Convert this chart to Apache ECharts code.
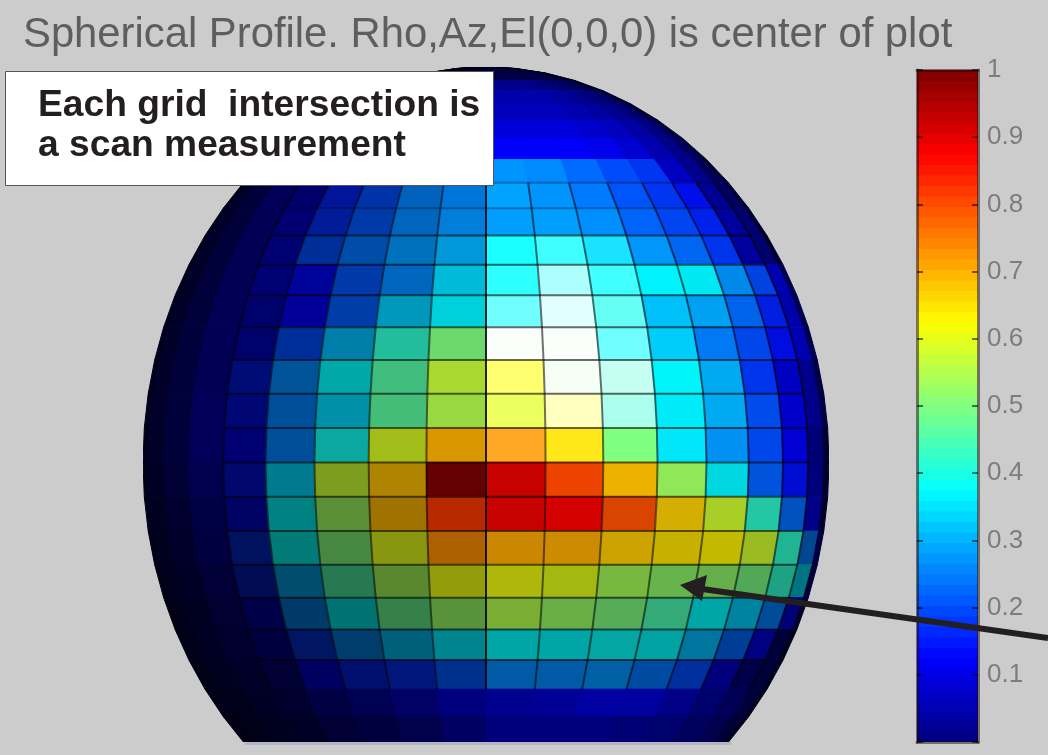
<!DOCTYPE html>
<html><head><meta charset="utf-8">
<style>html,body{margin:0;padding:0;background:#cccccc}#c{width:1048px;height:755px}</style>
<script src="https://cdn.jsdelivr.net/npm/echarts@6/dist/echarts.min.js"></script>
</head><body><div id="c"></div>
<script>
const titleText = 'Spherical Profile. Rho,Az,El(0,0,0) is center of plot';
const noteLines = ['Each grid  intersection is', 'a scan measurement'];
const colorbarTicks = [0.1,0.2,0.3,0.4,0.5,0.6,0.7,0.8,0.9,1];
const latEdges = [90,85,80,75,70,65,60,55,50,45,40,35,30,25,20,15,10,5,0,-5,-10,-15,-20,-25,-30,-35,-40,-45];
const lonEdges = [-90,-80,-70,-60,-50,-40,-30,-20,-10,0,10,20,30,40,50,60,70,80,90];
const gridLats = [45,40,35,30,25,20,15,10,5,0,-5,-10,-15,-20,-25,-30];
const gridLons = [-50,-40,-30,-20,-10,0,10,20,30,40,50,60,70];
// scan amplitude per cell: one row per latitude band (north to south), one column per azimuth band (west to east)
const cellValues = [
[0,0,0,0,0,0,0,0,0,0,0,0,0,0,0,0,0,0],
[0,0,0,0,0,0,0,0,0,0,0,0,0,0,0,0,0,0],
[0,0,0,0,0,0,0,0,.02,.02,.02,.02,.02,.02,.01,0,0,0],
[0,0,0,0,0,0,0,.02,.05,.1,.1,.1,.08,.06,.04,.02,0,0],
[0,0,0,0,0,0,.01,.03,.07,.1,.1,.1,.09,.07,.05,.03,.01,0],
[0,0,0,0,0,.01,.03,.05,.08,.09,.09,.09,.08,.07,.05,.03,.01,0],
[0,0,0,0,0,.02,.04,.07,.09,.1,.1,.1,.09,.08,.06,.03,.01,0],
[0,0,0,0,.01,.03,.06,.09,.11,.12,.12,.12,.11,.09,.06,.03,.01,0],
[0,0,0,0,.02,.06,.12,.2,.25,.27,.26,.23,.2,.18,.08,.03,0,0],
[0,.02,.05,.09,.1,.16,.2,.255,.26,.285,.27,.245,.21,.18,.14,.04,.01,0],
[0,.02,.05,.08,.12,.17,.21,.26,.27,.28,.28,.265,.225,.195,.16,.05,.03,0],
[0,.02,.05,.08,.12,.2,.24,.275,.3,.375,.375,.345,.275,.23,.18,.05,.03,0],
[0,.02,.05,.08,.12,.13,.21,.26,.34,.375,.375,.375,.367,.365,.27,.2,.125,.08],
[0,.02,.05,.08,.1,.125,.215,.325,.365,.375,.375,.39,.317,.29,.23,.16,.11,.08],
[0,.02,.05,.08,.1,.2,.31,.42,.5,.5,.5,.375,.33,.25,.2,.14,.125,.08],
[0,.02,.05,.08,.15,.26,.375,.46,.57,.625,.5,.42,.37,.3,.18,.09,.07,.05],
[0,.02,.05,.09,.14,.25,.34,.465,.55,.6,.625,.42,.36,.3,.205,.1,.07,.04],
[0,.02,.05,.09,.12,.25,.39,.59,.7,.725,.65,.5,.355,.275,.2,.11,.04,0],
[0,.01,.04,.08,.14,.34,.575,.6875,1,.915,.805,.6875,.53,.365,.22,.14,.06,0],
[0,.01,.04,.07,.13,.375,.53,.695,.82,.895,.88,.795,.67,.58,.42,.23,.1,0],
[0,.01,.03,.07,.17,.38,.505,.6,.735,.71,.705,.675,.655,.635,.58,.42,.25,.08],
[0,.01,.03,.06,.16,.3,.455,.54,.61,.61,.6,.54,.52,.52,.495,.42,.35,.08],
[0,.01,.03,.05,.1,.265,.375,.48,.525,.55,.525,.5,.45,.375,.33,.25,.12,.04],
[0,.01,.03,.05,.08,.18,.265,.32,.36,.375,.375,.38,.375,.31,.225,.1,0,0],
[0,0,.02,.03,.05,.12,.16,.17,.21,.26,.26,.27,.24,.2,.08,0,0,0],
[0,0,0,.01,.02,.04,.06,.08,.1,.09,.1,.12,.12,.09,.05,.02,0,0],
[0,0,0,0,.01,.02,.03,.04,.06,.08,.08,.08,.07,.06,.04,.02,0,0]
];
// shading of the lit surface, by latitude band and by azimuth band
const shadeByLat = [.3,.4,.5,.6,.75,.85,.95,1,1,1,1,1,1,1,1,1,1,1,.93,.85,.8,.72,.68,.65,.65,.65,.6];
const shadeByLon = [.22,.28,.33,.4,.46,.6,.66,.74,.85,1,1,1,.98,.95,.92,.88,.7,.38];
// specular highlight: white mix for the bright cells
const sheenLats = [32.5,27.5,22.5,17.5,12.5,7.5,2.5];
const sheenLons = [5,15,25];
const sheenRows = [[.1,.25,.1],[.18,.68,.25],[.44,.88,.36],[.97,.97,.44],[.44,.93,.72],[.3,.75,.6],[.15,.1,0]];

const rad = d => d*Math.PI/180;
const project = (lat,lon) => [Math.cos(rad(lat))*Math.sin(rad(lon)), Math.sin(rad(lat))];
function jetRgb(v){
  const t = Math.max(0,Math.min(1,v));
  const f = (a) => Math.max(0,Math.min(1,1.5-Math.abs(4*t-a)));
  return [f(3),f(2),f(1)];
}
function cellColor(r,c){
  const v = cellValues[r][c], d = shadeByLat[r]*shadeByLon[c];
  let w = 0;
  const latMid = (latEdges[r]+latEdges[r+1])/2, lonMid = (lonEdges[c]+lonEdges[c+1])/2;
  const si = sheenLats.indexOf(latMid), sj = sheenLons.indexOf(lonMid);
  if(si>=0 && sj>=0) w = sheenRows[si][sj];
  const rgb = jetRgb(v).map(x=>{const s=x*d; return Math.round(255*(s+(1-s)*w));});
  return `rgb(${rgb.join(',')})`;
}
const cellData = [];
cellValues.forEach((row,r)=>row.forEach((v,c)=>{
  const p = project((latEdges[r]+latEdges[r+1])/2,(lonEdges[c]+lonEdges[c+1])/2);
  cellData.push([p[0],p[1],v,r,c]);
}));
const levels = []; for(let i=0;i<64;i++) levels.push((i+0.5)/64);

const chart = echarts.init(document.getElementById('c'),null,{renderer:'canvas'});
const gridLine = a => ({stroke:`rgba(0,0,0,${a})`,lineWidth:2,fill:null});
const tickCommon = {show:true,inside:true,length:6,lineStyle:{color:'rgba(0,0,0,0.55)',width:2}};
const barEdge = {show:true,onZero:false,lineStyle:{color:'rgba(30,10,10,0.5)',width:3}};
chart.setOption({
  animation:false,
  backgroundColor:'#cccccc',
  title:{text:titleText,left:18,top:9,textStyle:{fontFamily:'Liberation Sans',fontSize:41.8,fontWeight:'normal',color:'#5e5e5e'}},
  tooltip:{show:false},
  grid:[{left:143,top:67,width:686,height:675,containLabel:false},{left:917,top:70,width:61,height:672}],
  xAxis:[
    {gridIndex:0,type:'value',min:-1,max:1,show:false},
    {gridIndex:1,type:'value',min:0,max:1,position:'top',z:10,axisLine:barEdge,axisTick:{show:false},axisLabel:{show:false},splitLine:{show:false}},
    {gridIndex:1,type:'value',min:0,max:1,position:'bottom',z:10,axisLine:barEdge,axisTick:{show:false},axisLabel:{show:false},splitLine:{show:false}}
  ],
  yAxis:[
    {gridIndex:0,type:'value',min:-Math.SQRT1_2,max:1,show:false},
    {gridIndex:1,type:'value',min:0,max:1,interval:0.1,position:'right',z:10,axisLine:barEdge,axisTick:tickCommon,splitLine:{show:false},
     axisLabel:{show:true,margin:9,fontFamily:'Liberation Sans',fontSize:26,color:'#7d7d7d',
       formatter:v=>{const t=colorbarTicks.find(k=>Math.abs(k-v)<1e-6);return t===undefined?'':String(t);}}},
    {gridIndex:1,type:'value',min:0,max:1,interval:0.1,position:'left',z:10,axisLine:barEdge,axisTick:tickCommon,axisLabel:{show:false},splitLine:{show:false}}
  ],
  series:[
    {type:'custom',coordinateSystem:'cartesian2d',xAxisIndex:0,yAxisIndex:0,clip:true,silent:true,data:cellData,encode:{x:0,y:1},
     renderItem(params,api){
       const d = cellData[params.dataIndex], r=d[3], c=d[4];
       const pts = [[r,c],[r,c+1],[r+1,c+1],[r+1,c]].map(([i,j])=>api.coord(project(latEdges[i],lonEdges[j])));
       const col = cellColor(r,c);
       return {type:'polygon',shape:{points:pts},style:{fill:col,stroke:col,lineWidth:1}};
     }},
    {type:'custom',coordinateSystem:'cartesian2d',xAxisIndex:0,yAxisIndex:0,clip:true,silent:true,z:3,data:gridLats.map(v=>[0,0,v]),encode:{x:0,y:1},
     renderItem(params,api){
       const lat = gridLats[params.dataIndex], pts=[];
       for(const lon of lonEdges) if(lon>=-50 && lon<=70) pts.push(api.coord(project(lat,lon)));
       return {type:'polyline',shape:{points:pts},style:gridLine(lat>=40?0.3:0.58)};
     }},
    {type:'custom',coordinateSystem:'cartesian2d',xAxisIndex:0,yAxisIndex:0,clip:true,silent:true,z:3,data:gridLons.map(v=>[0,0,v]),encode:{x:0,y:1},
     renderItem(params,api){
       const lon = gridLons[params.dataIndex], pts=[];
       for(const lat of latEdges) if(lat<=45 && lat>=-35) pts.push(api.coord(project(lat,lon)));
       return {type:'polyline',shape:{points:pts},style:gridLine(lon===0?0.85:0.55)};
     }},
    {type:'custom',coordinateSystem:'cartesian2d',xAxisIndex:1,yAxisIndex:1,clip:true,silent:true,data:levels.map(v=>[0.5,v]),encode:{x:0,y:1},
     renderItem(params,api){
       const v = levels[params.dataIndex], h = 1/64;
       const a = api.coord([0,v+h/2]), b = api.coord([1,v-h/2]);
       const col = 'rgb('+jetRgb(v).map(x=>Math.round(x*255)).join(',')+')';
       return {type:'rect',shape:{x:a[0],y:a[1],width:b[0]-a[0],height:b[1]-a[1]+0.5},style:{fill:col}};
     }}
  ],
  graphic:[
    {type:'rect',z:90,shape:{x:245,y:742,width:486,height:3},style:{fill:'#b4b4c6'}},
    {type:'rect',z:100,shape:{x:5.5,y:71.5,width:488,height:114},style:{fill:'#ffffff',stroke:'#555555',lineWidth:1}},
    {type:'text',z:101,style:{x:38,y:106,text:noteLines[0],fontFamily:'Liberation Sans',fontWeight:'bold',fontSize:37.2,fill:'#231f20',textVerticalAlign:'middle'}},
    {type:'text',z:101,style:{x:38,y:146,text:noteLines[1],fontFamily:'Liberation Sans',fontWeight:'bold',fontSize:37.2,fill:'#231f20',textVerticalAlign:'middle'}},
    {type:'line',z:100,shape:{x1:1048,y1:638,x2:695,y2:588},style:{stroke:'#231f20',lineWidth:6}},
    {type:'polygon',z:100,shape:{points:[[680,585],[707,575],[702,601]]},style:{fill:'#231f20'}}
  ]
});
</script></body></html>
